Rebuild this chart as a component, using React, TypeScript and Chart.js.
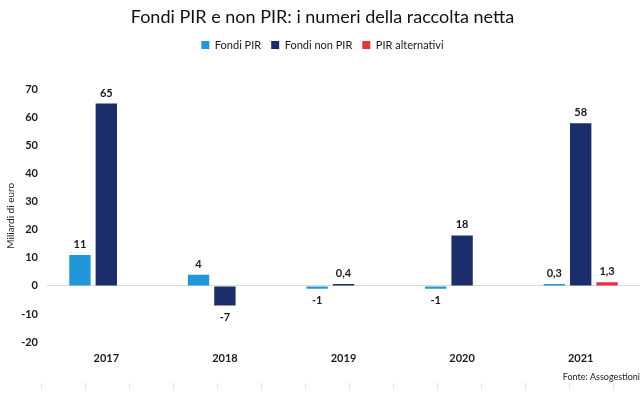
import React, { useEffect, useRef } from "react";
import { Chart, registerables } from "chart.js";

Chart.register(...registerables);

const categories = ["2017", "2018", "2019", "2020", "2021"];
const fondiPir = [11, 4, -1, -1, 0.3];
const fondiNonPir = [65, -7, 0.4, 18, 58];
const pirAlternativi: (number | null)[] = [null, null, null, null, 1.3];
const yTicks = { min: -20, max: 70, step: 10 };

const FONT = "Lato, 'DejaVu Sans', sans-serif";

const fmt = (v: number) => String(v).replace(".", ",");

const valueLabels = {
  id: "valueLabels",
  afterDatasetsDraw(chart: any) {
    const ctx = chart.ctx;
    ctx.save();
    ctx.font = `bold 11px ${FONT}`;
    ctx.fillStyle = "#1a1a1a";
    ctx.textAlign = "center";
    chart.data.datasets.forEach((ds: any, di: number) => {
      const meta = chart.getDatasetMeta(di);
      meta.data.forEach((bar: any, i: number) => {
        const v = ds.data[i];
        if (v === null || v === undefined) return;
        if (v >= 0) {
          ctx.textBaseline = "bottom";
          ctx.fillText(fmt(v), bar.x, bar.y - 5);
        } else {
          ctx.textBaseline = "top";
          ctx.fillText(fmt(v), bar.x, bar.y + 6);
        }
      });
    });
    ctx.restore();
  },
};

const legendSpacing = {
  id: "legendSpacing",
  beforeInit(chart: any) {
    const orig = chart.legend.fit;
    chart.legend.fit = function () {
      orig.bind(chart.legend)();
      this.height += 29;
    };
  },
};

const bottomTicks = {
  id: "bottomTicks",
  afterDraw(chart: any) {
    const ctx = chart.ctx;
    const h = chart.height;
    ctx.save();
    ctx.strokeStyle = "#e6e6e6";
    ctx.lineWidth = 1;
    for (let x = 41.5; x < chart.width; x += 44) {
      ctx.beginPath();
      ctx.moveTo(x, h - 11);
      ctx.lineTo(x, h - 4);
      ctx.stroke();
    }
    ctx.restore();
  },
};

export default function App() {
  const ref = useRef<HTMLCanvasElement | null>(null);
  useEffect(() => {
    if (!ref.current) return;
    const chart = new Chart(ref.current, {
      type: "bar",
      data: {
        labels: categories,
        datasets: [
          { label: "Fondi PIR", data: fondiPir, backgroundColor: "#1f97d9" },
          { label: "Fondi non PIR", data: fondiNonPir, backgroundColor: "#1b2e6b" },
          { label: "PIR alternativi", data: pirAlternativi, backgroundColor: "#e8303f" },
        ],
      },
      options: {
        animation: false,
        responsive: true,
        maintainAspectRatio: false,
        datasets: { bar: { categoryPercentage: 0.667, barPercentage: 0.81, minBarLength: 2 } },
        layout: { padding: { left: 5, right: 2, top: 0, bottom: 12 } },
        plugins: {
          title: {
            display: true,
            text: "Fondi PIR e non PIR: i numeri della raccolta netta",
            color: "#111111",
            font: { family: FONT, size: 18, weight: "normal" },
            padding: { top: 6, bottom: 2 },
          },
          legend: {
            position: "top",
            labels: {
              boxWidth: 8,
              boxHeight: 8,
              padding: 10,
              color: "#1a1a1a",
              font: { family: FONT, size: 11 },
            },
          },
          subtitle: {
            display: true,
            position: "bottom",
            align: "end",
            text: "Fonte: Assogestioni",
            color: "#1a1a1a",
            font: { family: FONT, size: 9 },
            padding: { top: 4, bottom: 0 },
          },
          tooltip: { enabled: false },
        },
        scales: {
          x: {
            grid: { display: false },
            border: { display: false },
            ticks: { color: "#1a1a1a", font: { family: FONT, size: 11, weight: "bold" }, padding: 2 },
          },
          y: {
            min: yTicks.min,
            max: yTicks.max,
            afterFit: (s: any) => { s.width = 42; },
            ticks: {
              stepSize: yTicks.step,
              color: "#1a1a1a",
              font: { family: FONT, size: 11, weight: "bold" },
              padding: 9,
            },
            border: { display: false },
            grid: {
              drawTicks: false,
              color: (c: any) => (c.tick && c.tick.value === 0 ? "#d9d9d9" : "rgba(0,0,0,0)"),
            },
            title: {
              display: true,
              text: "Miliardi di euro",
              color: "#1a1a1a",
              font: { family: FONT, size: 10 },
              padding: 0,
            },
          },
        },
      },
      plugins: [legendSpacing, valueLabels, bottomTicks],
    });
    return () => chart.destroy();
  }, []);
  return (
    <div style={{ position: "fixed", left: 0, top: 0, width: 642, height: 394, background: "#fff" }}>
      <canvas ref={ref} />
    </div>
  );
}
